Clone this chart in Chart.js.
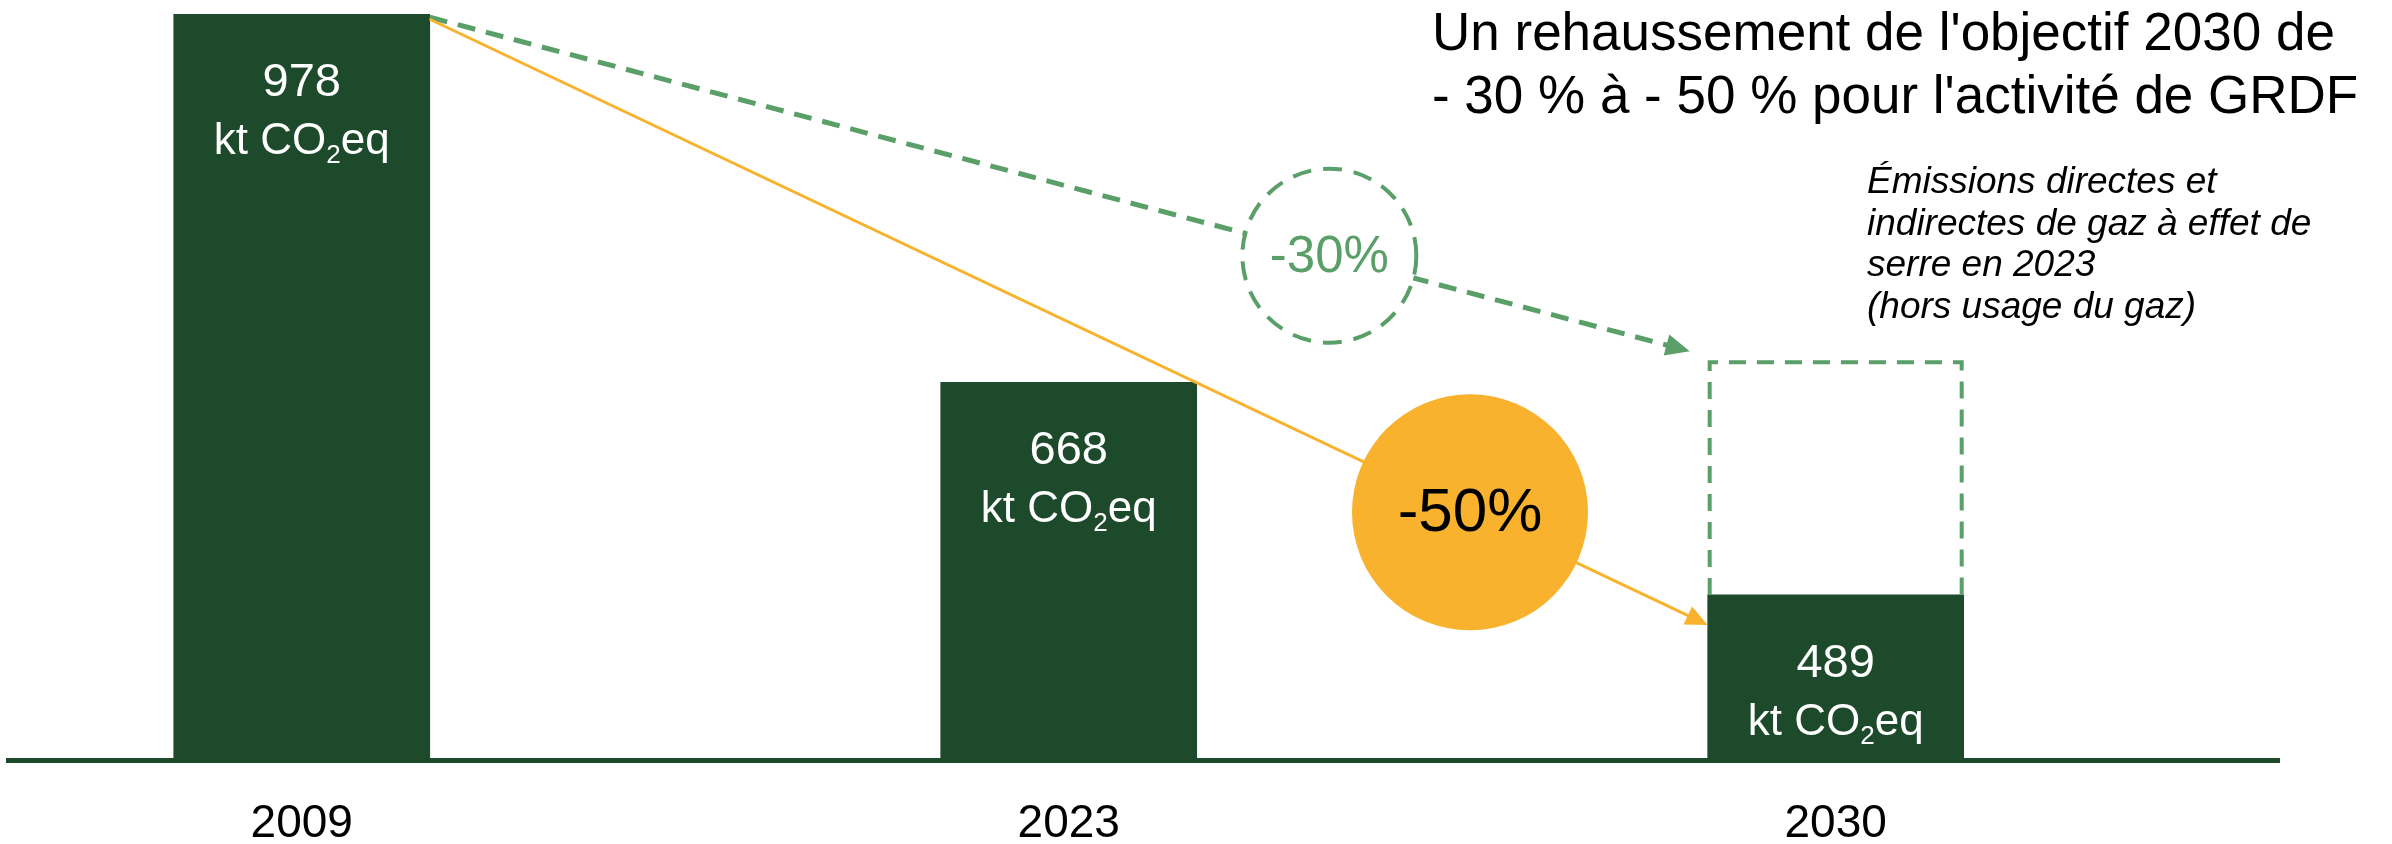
<!DOCTYPE html>
<html>
<head>
<meta charset="utf-8">
<script src="https://cdn.jsdelivr.net/npm/chart.js@4/dist/chart.umd.min.js"></script>
<style>
  html, body { margin: 0; padding: 0; background: #fff; }
</style>
</head>
<body>
<canvas id="c" width="2392" height="844"></canvas>
<script>
// data
const years = ['2009', '2023', '2030'];
const emissions = [978, 668, 489];
const target30 = [null, null, 685];
const reductions = ['-30%', '-50%'];
const unitParts = ['kt CO', '2', 'eq'];
const titleLines = ["Un rehaussement de l'objectif 2030 de", "- 30 % à - 50 % pour l'activité de GRDF"];
const noteLines = ['Émissions directes et', 'indirectes de gaz à effet de', 'serre en 2023', '(hors usage du gaz)'];

const FONT = '"Liberation Sans", Arial, sans-serif';
const DARK = '#1d4a2b';
const GREEN = '#5a9e68';
const ORANGE = '#f8b22e';

function drawArrow(ctx, x1, y1, x2, y2, color, width, dash, head) {
  const a = Math.atan2(y2 - y1, x2 - x1);
  const cos = Math.cos(a), sin = Math.sin(a);
  ctx.save();
  ctx.strokeStyle = color;
  ctx.lineWidth = width;
  ctx.setLineDash(dash);
  ctx.beginPath();
  ctx.moveTo(x1, y1);
  ctx.lineTo(x2 - cos * head * 0.8, y2 - sin * head * 0.8);
  ctx.stroke();
  ctx.setLineDash([]);
  ctx.fillStyle = color;
  ctx.beginPath();
  ctx.moveTo(x2, y2);
  ctx.lineTo(x2 - head * cos + head * 0.45 * sin, y2 - head * sin - head * 0.45 * cos);
  ctx.lineTo(x2 - head * cos - head * 0.45 * sin, y2 - head * sin + head * 0.45 * cos);
  ctx.closePath();
  ctx.fill();
  ctx.restore();
}

const annotations = {
  id: 'annotations',
  afterDatasetsDraw(chart) {
    const ctx = chart.ctx;
    const bars = chart.getDatasetMeta(0).data;
    const y = chart.scales.y;
    const b0 = bars[0], b2 = bars[2];
    const w = b0.width;

    // dashed -30% target box
    const boxTop = y.getPixelForValue(target30[2]);
    ctx.save();
    ctx.strokeStyle = GREEN;
    ctx.lineWidth = 4;
    ctx.setLineDash([17, 11]);
    ctx.beginPath();
    ctx.moveTo(b2.x - w / 2 + 2, b2.y);
    ctx.lineTo(b2.x - w / 2 + 2, boxTop);
    ctx.lineTo(b2.x + w / 2 - 2, boxTop);
    ctx.lineTo(b2.x + w / 2 - 2, b2.y);
    ctx.stroke();
    ctx.restore();

    // values inside bars
    ctx.save();
    ctx.fillStyle = '#fff';
    ctx.textBaseline = 'alphabetic';
    bars.forEach((bar, i) => {
      const top = bar.y + 82;
      ctx.font = '47px ' + FONT;
      ctx.textAlign = 'center';
      ctx.fillText(String(emissions[i]), bar.x, top);
      ctx.textAlign = 'left';
      ctx.font = '44px ' + FONT;
      const w1 = ctx.measureText(unitParts[0]).width;
      const w3 = ctx.measureText(unitParts[2]).width;
      ctx.font = '26px ' + FONT;
      const w2 = ctx.measureText(unitParts[1]).width;
      let x = bar.x - (w1 + w2 + w3) / 2;
      const base = top + 58;
      ctx.font = '44px ' + FONT;
      ctx.fillText(unitParts[0], x, base);
      x += w1;
      ctx.font = '26px ' + FONT;
      ctx.fillText(unitParts[1], x, base + 9);
      x += w2;
      ctx.font = '44px ' + FONT;
      ctx.fillText(unitParts[2], x, base);
    });
    ctx.restore();

    // arrows
    const gx1 = b0.x + w / 2, gy1 = b0.y + 3;
    const gx2 = b2.x - w / 2 - 18, gy2 = boxTop - 11;
    const ox1 = b0.x + w / 2, oy1 = b0.y + 5;
    const ox2 = b2.x - w / 2, oy2 = b2.y + 30;
    drawArrow(ctx, gx1, gy1, gx2, gy2, GREEN, 5, [18, 11], 24);
    drawArrow(ctx, ox1, oy1, ox2, oy2, ORANGE, 3, [], 22);

    // -30% dashed circle on the green arrow
    const tg = 0.714, to = 0.814;
    const cgx = gx1 + (gx2 - gx1) * tg, cgy = gy1 + (gy2 - gy1) * tg;
    ctx.save();
    ctx.fillStyle = '#fff';
    ctx.strokeStyle = GREEN;
    ctx.lineWidth = 4;
    ctx.setLineDash([19, 12]);
    ctx.beginPath();
    ctx.arc(cgx, cgy, 87, 0, Math.PI * 2);
    ctx.fill();
    ctx.stroke();
    ctx.setLineDash([]);
    ctx.fillStyle = GREEN;
    ctx.font = '51px ' + FONT;
    ctx.textAlign = 'center';
    ctx.textBaseline = 'middle';
    ctx.fillText(reductions[0], cgx, cgy + 2);
    ctx.restore();

    // -50% filled circle on the orange arrow
    const cox = ox1 + (ox2 - ox1) * to, coy = oy1 + (oy2 - oy1) * to;
    ctx.save();
    ctx.fillStyle = ORANGE;
    ctx.beginPath();
    ctx.arc(cox, coy, 118, 0, Math.PI * 2);
    ctx.fill();
    ctx.fillStyle = '#000';
    ctx.font = '62px ' + FONT;
    ctx.textAlign = 'center';
    ctx.textBaseline = 'middle';
    ctx.fillText(reductions[1], cox, coy + 2);
    ctx.restore();

    // title and note
    ctx.save();
    ctx.fillStyle = '#000';
    ctx.textAlign = 'left';
    ctx.textBaseline = 'alphabetic';
    ctx.font = '53px ' + FONT;
    titleLines.forEach((t, i) => ctx.fillText(t, 1432, 50 + i * 63));
    ctx.font = 'italic 37px ' + FONT;
    noteLines.forEach((t, i) => ctx.fillText(t, 1867, 193 + i * 41.5));
    ctx.restore();
  }
};

new Chart(document.getElementById('c'), {
  type: 'bar',
  data: {
    datasets: [{
      data: emissions.map((v, i) => ({ x: i, y: v })),
      backgroundColor: DARK,
      borderWidth: 0,
      barThickness: 256,
    }],
  },
  options: {
    responsive: false,
    animation: false,
    layout: { padding: { left: 8, right: 113, top: 0, bottom: 0 } },
    plugins: {
      legend: { display: false },
      tooltip: { enabled: false },
    },
    scales: {
      x: {
        type: 'linear',
        min: -0.383,
        max: 2.578,
        offset: false,
        grid: { display: false, drawTicks: false },
        border: { display: true, color: DARK, width: 5 },
        afterFit: scale => { scale.height = 84; },
        ticks: {
          stepSize: 1,
          includeBounds: false,
          autoSkip: false,
          maxRotation: 0,
          padding: 41,
          color: '#000',
          font: { family: FONT, size: 46, lineHeight: 1 },
          callback: v => years[v] ?? '',
        },
      },
      y: {
        display: false,
        min: 350,
        max: 990,
      },
    },
  },
  plugins: [annotations],
});
</script>
</body>
</html>
